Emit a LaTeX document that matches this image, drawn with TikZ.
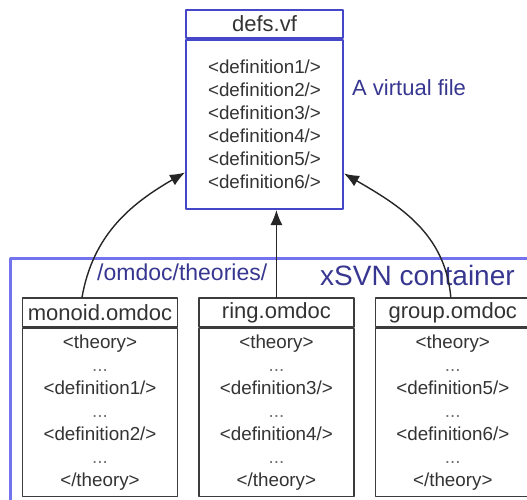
\documentclass[tikz,border=0pt]{standalone}
\usepackage{fontspec}
\setmainfont{Liberation Sans}
\usetikzlibrary{arrows.meta,positioning}
\definecolor{vfblue}{RGB}{70,70,200}
\definecolor{svnblue}{RGB}{115,115,240}
\definecolor{labblue}{RGB}{55,55,145}
\definecolor{boxgray}{RGB}{60,60,60}
\tikzset{
  filehead/.style={draw=boxgray,line width=1.4pt,minimum width=155pt,minimum height=29pt,
    inner sep=0pt,font=\fontsize{22}{26}\selectfont,text=black!80},
  filebody/.style={draw=boxgray,line width=1.4pt,minimum width=155pt,minimum height=168pt,
    inner sep=0pt,align=center,font=\fontsize{18.8}{23}\selectfont,text=black!80},
  vfbox/.style={draw=vfblue,line width=2pt,minimum width=157pt},
  bluelabel/.style={text=labblue,inner sep=0pt,anchor=west},
  link/.style={-{Latex[length=15pt,width=12pt]},line width=1.4pt,black!85}
}
\newcommand{\skipdots}{\textcolor{black!55}{...}}
\begin{document}
\begin{tikzpicture}[x=1pt,y=1pt,line join=round,line cap=round]
  \useasboundingbox (0,0) rectangle (527,499);
  \clip (0,0) rectangle (527,499);
  % the container
  \draw[svnblue,line width=3pt] (10,-20) rectangle (560,241);
  \node[bluelabel,font=\fontsize{23}{27}\selectfont] (path) at (97,227) {/omdoc/theories/};
  \node[bluelabel,font=\fontsize{28}{32}\selectfont] (svn) at (320,224) {xSVN container};
  % the virtual file
  \node[filehead,vfbox,minimum height=28pt] (defs-h) at (264.5,475) {defs.vf};
  \node[filebody,vfbox,minimum height=169pt,below=0pt of defs-h] (defs-b)
    {<definition1/>\\<definition2/>\\<definition3/>\\<definition4/>\\<definition5/>\\<definition6/>};
  \node[bluelabel,font=\fontsize{22}{26}\selectfont] (vf) at (352,411) {A virtual file};
  % the omdoc files
  \node[filehead] (mono-h) at (100,186.5) {monoid.omdoc};
  \node[filehead,right=20pt of mono-h] (ring-h) {ring.omdoc};
  \node[filehead,right=20pt of ring-h] (group-h) {group.omdoc};
  \foreach \f/\a/\b in {mono/1/2,ring/3/4,group/5/6}{
    \node[filebody,below=0pt of \f-h] (\f-b)
      {<theory>\\\skipdots\\<definition\a/>\\\skipdots\\<definition\b/>\\\skipdots\\</theory>};
  }
  % links
  \draw[link] ([xshift=-18pt]mono-h.north) to[out=80,in=210] ([yshift=-48pt]defs-b.west);
  \draw[link] (ring-h.north) -- (ring-h.north |- defs-b.south);
  \draw[link] ([xshift=-2pt]group-h.north) to[out=95,in=-30] ([yshift=-49pt]defs-b.east);
\end{tikzpicture}
\end{document}
